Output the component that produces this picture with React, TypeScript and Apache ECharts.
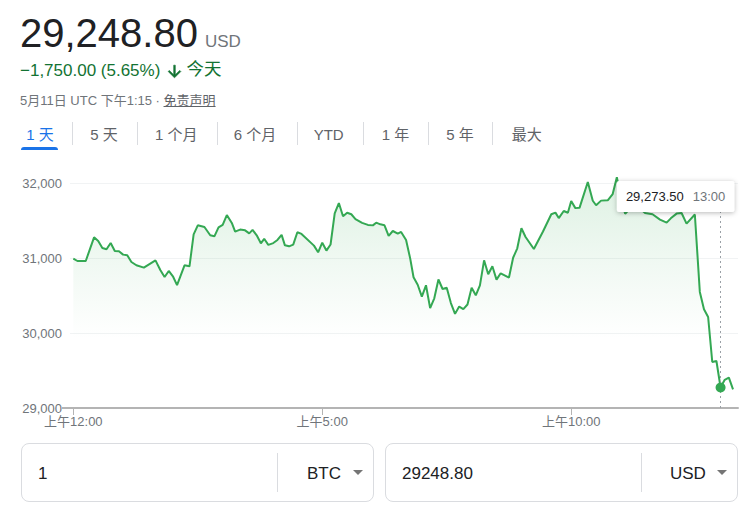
import React, { useEffect, useRef } from "react";
import * as echarts from "echarts";

// minutes since 00:00 (UTC) for each price point
const times = [
  0, 5, 15, 25, 30, 35, 40, 45, 50, 55,
  60, 65, 70, 76, 85, 99, 105, 110, 115, 120,
  125, 134, 140, 145, 150, 158, 165, 170, 175, 180,
  185, 191, 195, 201, 207, 212, 216, 221, 226, 230,
  235, 241, 246, 251, 255, 260, 265, 270, 275, 290,
  295, 300, 305, 310, 315, 320, 325, 330, 335, 340,
  348, 355, 361, 365, 370, 375, 380, 385, 391, 395,
  401, 406, 410, 415, 420, 425, 430, 435, 440, 445,
  450, 455, 460, 465, 470, 475, 480, 485, 490, 495,
  500, 505, 510, 515, 525, 530, 535, 540, 545, 555,
  566, 576, 581, 585, 591, 596, 600, 605, 610, 620,
  626, 630, 636, 644, 650, 655, 660, 665, 671, 680,
  689, 698, 707, 715, 720, 727, 733, 739, 749, 755,
  760, 765, 770, 775, 780, 785, 790, 795,
];

const prices = [
  30992, 30960, 30960, 31276, 31227, 31133, 31116, 31200, 31093, 31089,
  31045, 31036, 30947, 30903, 30872, 30969, 30836, 30747, 30827, 30756,
  30639, 30903, 30889, 31316, 31436, 31413, 31303, 31289, 31409, 31443,
  31573, 31467, 31352, 31379, 31369, 31329, 31375, 31303, 31196, 31256,
  31175, 31199, 31241, 31308, 31169, 31156, 31179, 31343, 31321, 31165,
  31076, 31204, 31099, 31180, 31596, 31733, 31556, 31603, 31583, 31519,
  31469, 31441, 31435, 31471, 31449, 31436, 31296, 31360, 31325, 31347,
  31241, 30992, 30743, 30643, 30484, 30636, 30332, 30463, 30713, 30587,
  30603, 30399, 30255, 30352, 30319, 30380, 30603, 30503, 30636, 30969,
  30783, 30889, 30712, 30796, 30739, 31003, 31129, 31396, 31280, 31120,
  31353, 31583, 31605, 31532, 31627, 31603, 31759, 31665, 31669, 32013,
  31763, 31703, 31765, 31769, 31853, 32076, 31796, 31589, 31663, 31689,
  31600, 31583, 31512, 31472, 31529, 31592, 31600, 31459, 31580, 30548,
  30316, 30213, 29613, 29627, 29273.5, 29376, 29405, 29248.8,
];

const yTickValues = [29000, 30000, 31000, 32000];
const xTickValues = [0, 300, 600];
const xTickLabels = ["上午12:00", "上午5:00", "上午10:00"];
const hoverTime = 780;
const hoverTimeLabel = "13:00";

const currentPrice = "29,248.80";
const currency = "USD";
const changeText = "−1,750.00 (5.65%)";
const todayText = "今天";
const dateLine = "5月11日 UTC 下午1:15 · ";
const disclaimer = "免责声明";
const tabs = ["1 天", "5 天", "1 个月", "6 个月", "YTD", "1 年", "5 年", "最大"];
const fromAmount = "1";
const fromUnit = "BTC";
const toAmount = "29248.80";
const toUnit = "USD";

const FONT = 'Arial, "Liberation Sans", "Noto Sans CJK SC", sans-serif';
const GREEN = "#34a853";

const tabCenters = [40, 104, 176.3, 255, 328.7, 395.5, 460, 526.7];
const tabSeparators = [71.7, 136.7, 216.7, 296.7, 363.3, 427.7, 492.3];

export default function App() {
  const ref = useRef<HTMLDivElement>(null);

  useEffect(() => {
    if (!ref.current) return;
    const chart = echarts.init(ref.current, null, { renderer: "svg" });
    const data = times.map((t, i) => [t, prices[i]]);
    const hoverIdx = times.indexOf(hoverTime);
    const hoverValue = prices[hoverIdx];
    const fmt = (v: number, d = 0) =>
      v.toLocaleString("en-US", { minimumFractionDigits: d, maximumFractionDigits: d });

    chart.setOption({
      animation: false,
      textStyle: { fontFamily: FONT },
      grid: { left: 70, right: 13, top: 183, bottom: 104 },
      xAxis: {
        type: "value",
        min: -4,
        max: 801,
        axisLine: { show: true, lineStyle: { color: "#b4b4b4", width: 2 } },
        axisTick: {
          show: true,
          customValues: xTickValues,
          length: 7,
          lineStyle: { color: "#b4b4b4", width: 1 },
        },
        axisLabel: {
          customValues: xTickValues,
          formatter: (v: number) => xTickLabels[xTickValues.indexOf(v)] ?? "",
          color: "#70757a",
          fontSize: 13,
          margin: 7,
          fontFamily: FONT,
        },
        splitLine: { show: false },
      },
      yAxis: {
        type: "value",
        min: yTickValues[0],
        max: yTickValues[yTickValues.length - 1],
        interval: 1000,
        axisLine: { show: false },
        axisTick: { show: false },
        axisLabel: {
          formatter: (v: number) => fmt(v),
          color: "#70757a",
          fontSize: 13,
          margin: 8,
          fontFamily: FONT,
        },
        splitLine: { lineStyle: { color: "#f1f3f4", width: 1 } },
      },
      series: [
        {
          type: "line",
          data,
          showSymbol: false,
          clip: false,
          lineStyle: { color: GREEN, width: 2 },
          itemStyle: { color: GREEN },
          areaStyle: {
            origin: "start",
            color: new echarts.graphic.LinearGradient(0, 0, 0, 1, [
              { offset: 0, color: "rgba(52,168,83,0.24)" },
              { offset: 0.35, color: "rgba(52,168,83,0.11)" },
              { offset: 0.7, color: "rgba(52,168,83,0)" },
              { offset: 1, color: "rgba(52,168,83,0)" },
            ]),
          },
          markLine: {
            silent: true,
            symbol: ["none", "none"],
            label: { show: false },
            lineStyle: { type: [2, 3], color: "#9aa0a6", width: 1 },
            data: [{ xAxis: hoverTime }],
            z: 4,
          },
          markPoint: {
            silent: true,
            z: 10,
            symbol: "circle",
            symbolSize: 10,
            itemStyle: { color: GREEN },
            label: {
              show: true,
              position: "inside",
              offset: [-45, -191],
              align: "center",
              verticalAlign: "middle",
              backgroundColor: "#ffffff",
              padding: [8, 9],
              borderRadius: 2,
              shadowBlur: 5,
              shadowColor: "rgba(0,0,0,0.28)",
              shadowOffsetY: 1,
              formatter: `{v|${fmt(hoverValue, 2)}}{t|${hoverTimeLabel}}`,
              rich: {
                v: { fontSize: 13, color: "#202124", fontFamily: FONT, lineHeight: 15 },
                t: {
                  fontSize: 13,
                  color: "#70757a",
                  fontFamily: FONT,
                  lineHeight: 15,
                  padding: [0, 0, 0, 9],
                },
              },
            },
            data: [{ coord: [hoverTime, hoverValue] }],
          },
        },
      ],
    });
    return () => chart.dispose();
  }, []);

  const abs = (s: React.CSSProperties): React.CSSProperties => ({
    position: "absolute",
    whiteSpace: "nowrap",
    pointerEvents: "none",
    ...s,
  });

  return (
    <div
      style={{
        position: "fixed",
        left: 0,
        top: 0,
        width: 751,
        height: 512,
        background: "#fff",
        overflow: "hidden",
        fontFamily: FONT,
      }}
    >
      <div ref={ref} style={{ position: "absolute", left: 0, top: 0, width: 751, height: 512 }} />

      {/* header */}
      <div style={abs({ left: 20, top: 12.9, lineHeight: 1, color: "#202124", fontSize: 40 })}>
        {currentPrice}
        <span style={{ fontSize: 17, color: "#70757a", marginLeft: 7 }}>{currency}</span>
      </div>
      <div style={abs({ left: 20, top: 61.6, lineHeight: 1, color: "#137333", fontSize: 17 })}>
        {changeText}
      </div>
      <svg
        width={19}
        height={19}
        viewBox="0 0 24 24"
        style={abs({ left: 164.5, top: 61.5 }) as any}
      >
        <path
          fill="#137333"
          stroke="#137333"
          strokeWidth={0.8}
          d="M20 12l-1.41-1.41L13 16.17V4h-2v12.17l-5.58-5.59L4 12l8 8 8-8z"
        />
      </svg>
      <div style={abs({ left: 186.5, top: 61.2, lineHeight: 1, color: "#137333", fontSize: 17.5 })}>
        {todayText}
      </div>
      <div style={abs({ left: 20, top: 94, lineHeight: 1, color: "#70757a", fontSize: 13 })}>
        {dateLine}
        <span style={{ textDecoration: "underline", color: "#5f6368" }}>{disclaimer}</span>
      </div>

      {/* tabs */}
      {tabs.map((t, i) => (
        <div
          key={t}
          style={abs({
            left: tabCenters[i],
            top: 126.6,
            transform: "translateX(-50%)",
            lineHeight: 1,
            fontSize: 15,
            color: i === 0 ? "#1a73e8" : "#5f6368",
          })}
        >
          {t}
        </div>
      ))}
      {tabSeparators.map((x) => (
        <div key={x} style={abs({ left: x, top: 122, width: 1, height: 23, background: "#dadce0" })} />
      ))}
      <div
        style={abs({
          left: 21,
          top: 147,
          width: 37,
          height: 3,
          background: "#1a73e8",
          borderRadius: "3px 3px 0 0",
        })}
      />

      {/* axis line extension on the left */}
      <div style={abs({ left: 62, top: 407, width: 8, height: 2, background: "#b4b4b4" })} />

      {/* converter boxes */}
      {[
        { left: 21, amount: fromAmount, unit: fromUnit, divider: 277, unitLeft: 307, tri: 353 },
        { left: 385, amount: toAmount, unit: toUnit, divider: 641, unitLeft: 670, tri: 717 },
      ].map((b) => (
        <React.Fragment key={b.unit + b.left}>
          <div
            style={abs({
              left: b.left,
              top: 443,
              width: 353,
              height: 59,
              boxSizing: "border-box",
              border: "1px solid #dadce0",
              borderRadius: 8,
            })}
          />
          <div style={abs({ left: b.left + 17, top: 464.6, lineHeight: 1, fontSize: 17, color: "#202124" })}>
            {b.amount}
          </div>
          <div style={abs({ left: b.divider, top: 453, width: 1, height: 39, background: "#dadce0" })} />
          <div style={abs({ left: b.unitLeft, top: 464.6, lineHeight: 1, fontSize: 17, color: "#202124" })}>
            {b.unit}
          </div>
          <div
            style={abs({
              left: b.tri,
              top: 470,
              width: 0,
              height: 0,
              borderLeft: "5px solid transparent",
              borderRight: "5px solid transparent",
              borderTop: "5px solid #757575",
            })}
          />
        </React.Fragment>
      ))}
    </div>
  );
}
